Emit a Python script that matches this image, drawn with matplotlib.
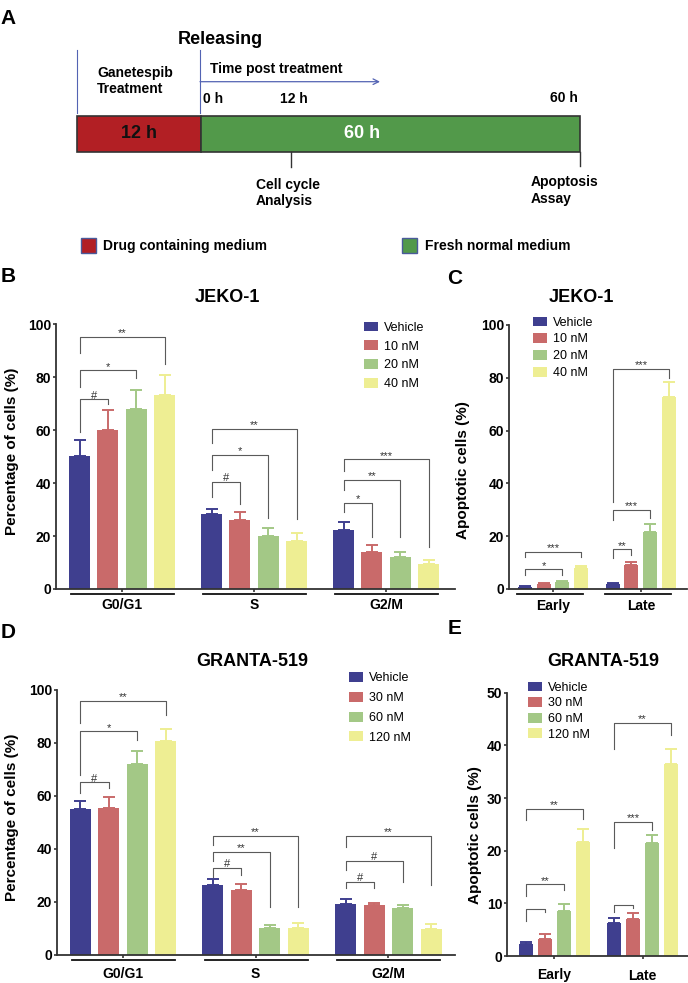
import matplotlib.pyplot as plt
from matplotlib.patches import Rectangle
from matplotlib import transforms
import numpy as np

plt.rcParams['font.family'] = ['Liberation Sans', 'DejaVu Sans']

W, H = 688, 983

# ---- data ----
phases = ['G0/G1', 'S', 'G2/M']
stages = ['Early', 'Late']
jeko_doses = ['Vehicle', '10 nM', '20 nM', '40 nM']
granta_doses = ['Vehicle', '30 nM', '60 nM', '120 nM']
bar_colors = ['#3f3f8f', '#c96a6a', '#a3c886', '#eeee93']

jeko_cycle = [[50.2, 60.1, 68.0, 73.2], [28.2, 26.2, 20.1, 18.2], [22.3, 14.1, 12.1, 9.3]]
jeko_cycle_err = [[6.0, 7.7, 7.1, 7.7], [2.0, 3.0, 2.9, 3.0], [3.1, 2.6, 1.9, 1.8]]
jeko_apop = [[0.9, 1.9, 2.8, 7.8], [2.0, 9.1, 21.6, 72.6]]
jeko_apop_err = [[0.2, 0.2, 0.3, 0.9], [0.2, 1.1, 3.2, 5.9]]
granta_cycle = [[55.1, 55.4, 71.9, 80.7], [26.4, 24.4, 10.3, 10.0], [19.2, 18.7, 17.6, 9.9]]
granta_cycle_err = [[2.9, 4.2, 5.1, 4.5], [2.1, 2.3, 0.9, 1.9], [1.8, 0.8, 1.2, 1.6]]
granta_apop = [[2.2, 3.2, 8.5, 21.7], [6.3, 7.0, 21.5, 36.4]]
granta_apop_err = [[0.5, 1.0, 1.4, 2.5], [1.0, 1.1, 1.5, 2.9]]

# significance brackets: (group, compared bar, bracket y, left leg end, right leg end, mark)
jeko_cycle_sig = [(0, 1, 71.6, 59.5, 70.0, '#'), (0, 2, 82.6, 76.4, 79.9, '*'), (0, 3, 95.2, 89.2, 84.9, '**'),
                  (1, 1, 40.6, 34.6, 32.3, '#'), (1, 2, 50.6, 44.9, 26.7, '*'), (1, 3, 60.6, 55.0, 26.4, '**'),
                  (2, 1, 32.6, 29.2, 19.7, '*'), (2, 2, 41.1, 37.4, 19.5, '**'), (2, 3, 49.0, 44.6, 16.0, '***')]
jeko_apop_sig = [(0, 2, 7.4, 5.3, 5.3, '*'), (0, 3, 14.1, 12.0, 12.0, '***'),
                 (1, 1, 15.0, 11.6, 12.8, '**'), (1, 2, 30.0, 26.0, 27.0, '***'), (1, 3, 83.5, 33.0, 80.1, '***')]
granta_cycle_sig = [(0, 1, 65.0, 61.1, 63.0, '#'), (0, 2, 84.2, 67.8, 81.0, '*'), (0, 3, 95.7, 87.5, 90.4, '**'),
                    (1, 1, 32.9, 29.5, 30.1, '#'), (1, 2, 38.9, 35.5, 18.2, '**'), (1, 3, 44.9, 41.4, 18.2, '**'),
                    (2, 1, 27.6, 25.1, 25.1, '#'), (2, 2, 35.4, 32.0, 27.6, '#'), (2, 3, 44.9, 40.8, 26.4, '**')]
granta_apop_sig = [(0, 1, 8.9, 6.7, 8.4, ''), (0, 2, 13.6, 11.3, 12.5, '**'), (0, 3, 28.0, 25.8, 26.1, '**'),
                   (1, 1, 9.7, 8.4, 9.05, ''), (1, 2, 25.4, 20.6, 23.9, '***'), (1, 3, 44.3, 39.4, 42.0, '**')]

fig = plt.figure(figsize=(W / 100, H / 100), dpi=100)

# canvas in pixel coordinates for the schematic and panel letters
ax0 = fig.add_axes([0, 0, 1, 1])
ax0.set_xlim(0, W)
ax0.set_ylim(H, 0)
ax0.axis('off')


def px_axes(l, r, b, t):
    return fig.add_axes([l / W, 1 - b / H, (r - l) / W, (b - t) / H])


# ---- panel A ----
line_blue = '#5363b3'
ax0.plot([77, 77], [50, 113], color=line_blue, lw=0.8)
ax0.plot([200, 200], [50, 113], color=line_blue, lw=0.8)
ax0.add_patch(Rectangle((77, 116), 124, 36, facecolor='#b21f24', edgecolor='#333333', lw=1.2))
ax0.add_patch(Rectangle((201, 116), 379, 36, facecolor='#52994a', edgecolor='#333333', lw=1.2))
ax0.text(139, 134, '12 h', ha='center', va='center', fontsize=13, fontweight='bold', color='#111111')
ax0.text(362, 134, '60 h', ha='center', va='center', fontsize=13, fontweight='bold', color='white')
ax0.text(220, 39, 'Releasing', ha='center', va='center', fontsize=13, fontweight='bold')
ax0.text(97, 81, 'Ganetespib\nTreatment', ha='left', va='center', fontsize=10, fontweight='bold', linespacing=1.2)
ax0.text(210, 69, 'Time post treatment', ha='left', va='center', fontsize=10, fontweight='bold')
ax0.annotate('', xy=(380, 81.7), xytext=(200, 81.7),
             arrowprops=dict(arrowstyle='->', color=line_blue, lw=0.9, shrinkA=0, shrinkB=0))
ax0.text(203, 99, '0 h', ha='left', va='center', fontsize=10, fontweight='bold')
ax0.text(294, 99, '12 h', ha='center', va='center', fontsize=10, fontweight='bold')
ax0.text(564, 98, '60 h', ha='center', va='center', fontsize=10, fontweight='bold')
ax0.plot([291, 291], [152, 167], color='#333333', lw=1)
ax0.plot([580, 580], [152, 166], color='#333333', lw=1)
ax0.text(256, 193, 'Cell cycle\nAnalysis', ha='left', va='center', fontsize=10, fontweight='bold', linespacing=1.2)
ax0.text(531, 190.5, 'Apoptosis\nAssay', ha='left', va='center', fontsize=10, fontweight='bold', linespacing=1.2)
ax0.add_patch(Rectangle((81, 238), 15, 15, facecolor='#b21f24', edgecolor='#4a5a9a', lw=1))
ax0.text(103, 246, 'Drug containing medium', ha='left', va='center', fontsize=10, fontweight='bold')
ax0.add_patch(Rectangle((402, 238), 15, 15, facecolor='#52994a', edgecolor='#4a5a9a', lw=1))
ax0.text(425, 246, 'Fresh normal medium', ha='left', va='center', fontsize=10, fontweight='bold')

# panel letters and titles
for letter, x, y in [('A', 8, 18), ('B', 8, 277), ('C', 455, 278), ('D', 8, 633), ('E', 455, 628)]:
    ax0.text(x, y, letter, ha='center', va='center', fontsize=15, fontweight='bold')
for title, x, y in [('JEKO-1', 227, 297), ('JEKO-1', 581, 297), ('GRANTA-519', 252, 662), ('GRANTA-519', 603, 662)]:
    ax0.text(x, y, title, ha='center', va='center', fontsize=13, fontweight='bold')


def bar_panel(ax, groups, doses, means, errs, sig, gap, xlim, ymax, ystep, ylabel, ylab_pos,
              under, xpad, leg_xy, leg_space):
    n = len(groups)
    for i, dose in enumerate(doses):
        xs = [g * gap + i for g in range(n)]
        vals = [means[g][i] for g in range(n)]
        e = [errs[g][i] for g in range(n)]
        ax.bar(xs, vals, 0.74, color=bar_colors[i], label=dose, zorder=2)
        ax.errorbar(xs, vals, yerr=[np.zeros(n), e], fmt='none', ecolor=bar_colors[i],
                    elinewidth=1.4, capsize=4, capthick=1.4, zorder=1)
    for g, j, top, lend, rend, mark in sig:
        x1, x2 = g * gap, g * gap + j
        ax.plot([x1, x1, x2, x2], [lend, top, top, rend], color='#5a5a5a', lw=0.8, clip_on=False)
        if mark:
            ax.annotate(mark, ((x1 + x2) / 2, top), xytext=(0, 0.5), textcoords='offset points',
                        ha='center', va='baseline', fontsize=8, color='#333333')
    if under:
        tr = transforms.offset_copy(ax.transData, fig=fig, y=-5, units='dots')
        for g in range(n):
            ax.plot([g * gap + under[0], g * gap + under[1]], [0, 0], color='#111111', lw=1.3,
                    transform=tr, clip_on=False)
    ax.set_xlim(*xlim)
    ax.set_ylim(0, ymax)
    ax.set_xticks([g * gap + 1.5 for g in range(n)])
    ax.set_xticklabels(groups, fontsize=10, fontweight='bold')
    ax.set_yticks(np.arange(0, ymax + 1, ystep))
    ax.set_yticklabels([str(v) for v in range(0, ymax + 1, ystep)], fontsize=10, fontweight='bold')
    ax.tick_params(axis='y', length=2.5, width=1.2, pad=1, colors='#333333', labelcolor='black')
    ax.tick_params(axis='x', length=2.5, width=1.2, pad=xpad, colors='#333333', labelcolor='black')
    for s in ['top', 'right']:
        ax.spines[s].set_visible(False)
    for s in ['left', 'bottom']:
        ax.spines[s].set_color('#333333')
        ax.spines[s].set_linewidth(1.3)
    ax.set_ylabel(ylabel, fontsize=11, fontweight='bold')
    ax.yaxis.set_label_coords(*ylab_pos)
    ax.legend(loc='upper left', bbox_to_anchor=(leg_xy[0] / W, 1 - leg_xy[1] / H),
              bbox_transform=fig.transFigure, frameon=False, fontsize=9, handlelength=1.12,
              handleheight=0.85, handletextpad=0.45, labelspacing=leg_space, borderpad=0,
              borderaxespad=0)


axB = px_axes(56, 455, 589, 324.3)
bar_panel(axB, phases, jeko_doses, jeko_cycle, jeko_cycle_err, jeko_cycle_sig, 4.66, (-0.83, 13.25),
          100, 20, 'Percentage of cells (%)', (-37 / 399, 0.52), (-0.3, 3.34), 4, (364, 321.5), 0.52)

axC = px_axes(509, 687, 589, 325)
bar_panel(axC, stages, jeko_doses, jeko_apop, jeko_apop_err, jeko_apop_sig, 4.65, (-0.83, 8.59),
          100, 20, 'Apoptotic cells (%)', (-38.5 / 178, 0.45), (-0.42, 3.1), 5, (533, 316.5), 0.35)

axD = px_axes(57, 455, 955, 689.5)
bar_panel(axD, phases, granta_doses, granta_cycle, granta_cycle_err, granta_cycle_sig, 4.66, (-0.81, 13.16),
          100, 20, 'Percentage of cells (%)', (-38 / 398, 0.52), (-0.29, 3.33), 6.5, (349, 672), 0.6)

axE = px_axes(507, 688, 956, 692.7)
bar_panel(axE, stages, granta_doses, granta_apop, granta_apop_err, granta_apop_sig, 4.64, (-1.0, 8.53),
          50, 10, 'Apoptotic cells (%)', (-25 / 181, 0.46), None, 6.5, (528, 681.5), 0.26)

fig.savefig('out.png', dpi=100)
